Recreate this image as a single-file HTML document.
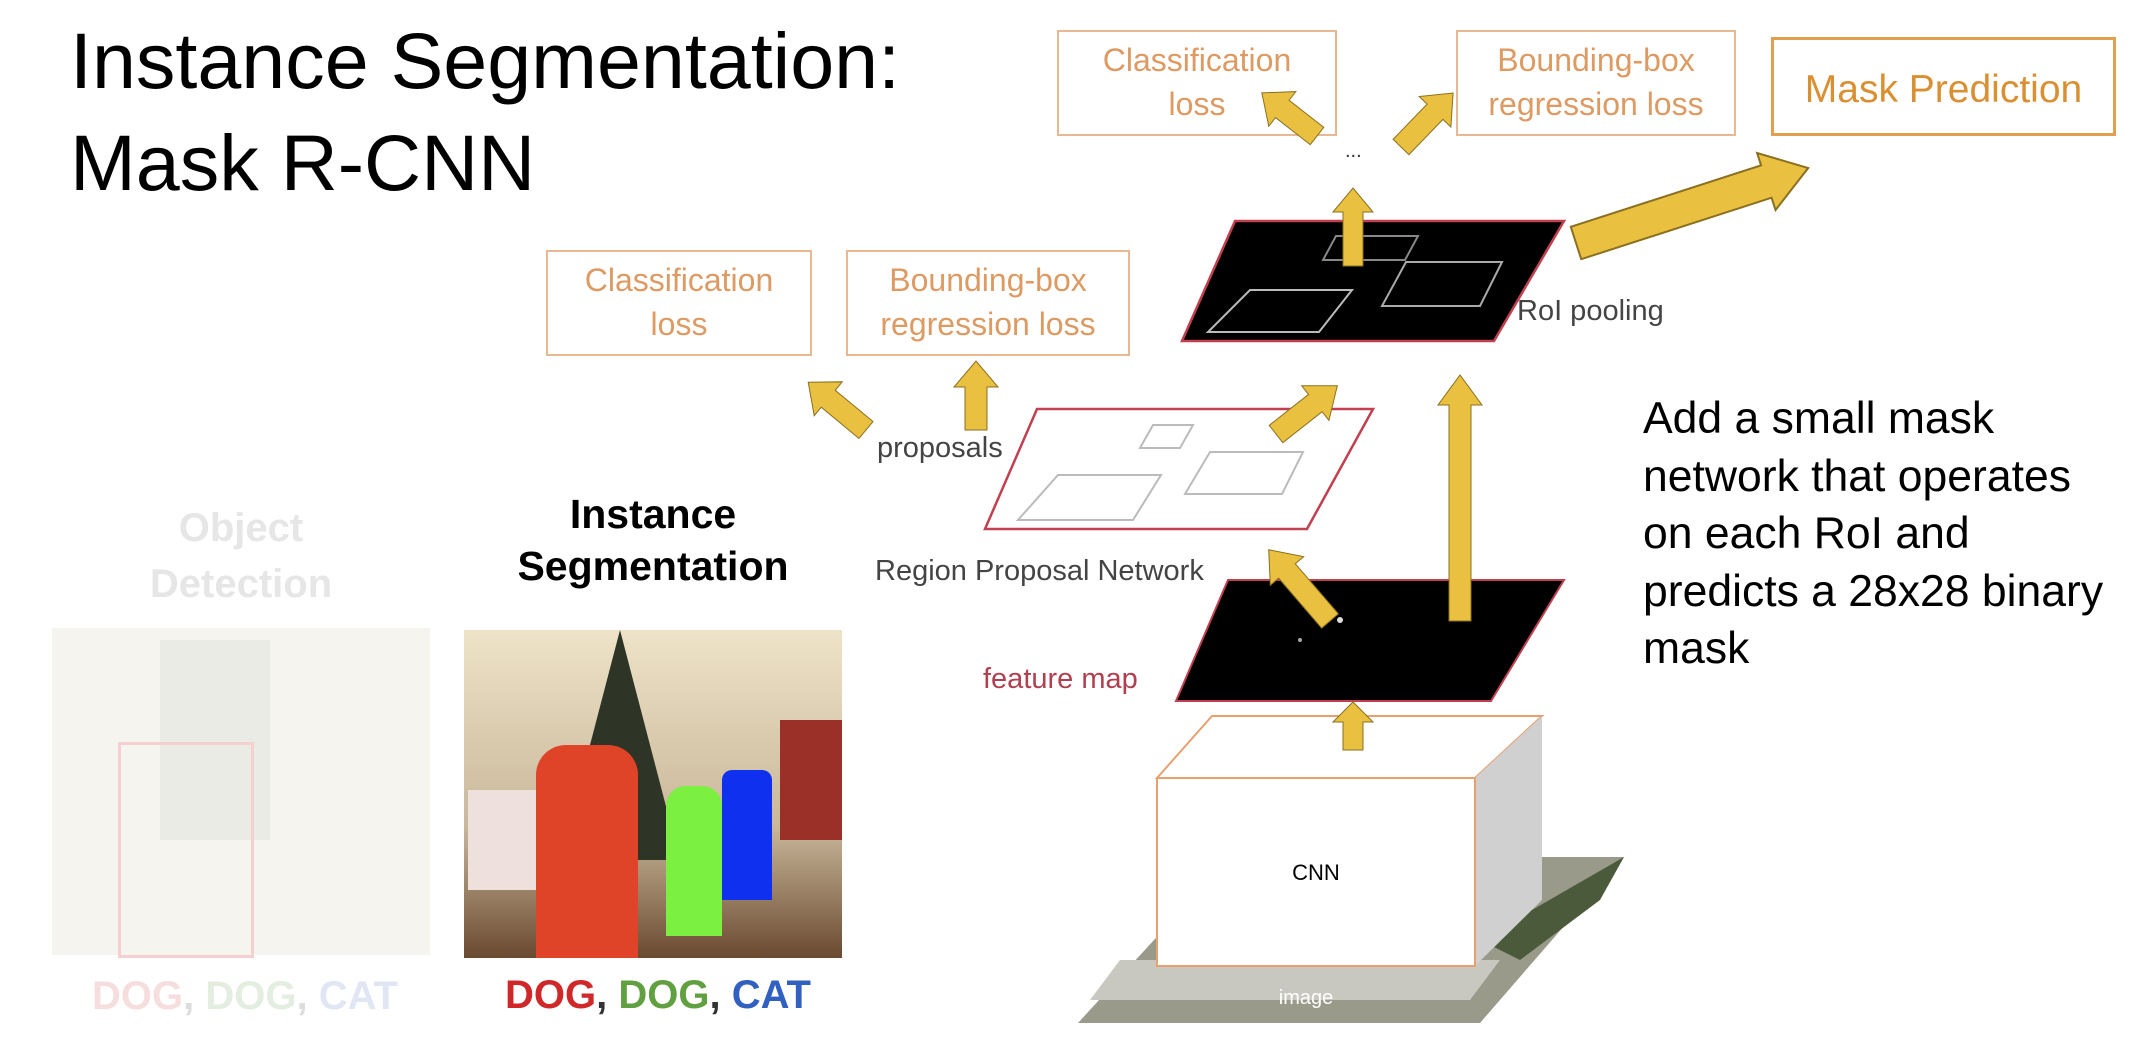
<!DOCTYPE html>
<html><head><meta charset="utf-8"><style>
body{margin:0;width:2134px;height:1048px;background:#fff;position:relative;overflow:hidden;font-family:"Liberation Sans",sans-serif}
.t{position:absolute;white-space:nowrap}
.box{position:absolute;border:2px solid #e8b892;color:#dd9a63;font-size:32px;text-align:center;line-height:44px;box-sizing:border-box;padding-top:6px}
</style></head><body>
<div class="t" style="left:70px;top:10px;font-size:79px;line-height:102px;color:#000">Instance Segmentation:<br>Mask R-CNN</div>

<div class="box" style="left:1057px;top:30px;width:280px;height:106px">Classification<br>loss</div>
<div class="box" style="left:1456px;top:30px;width:280px;height:106px">Bounding-box<br>regression loss</div>
<div class="box" style="left:1771px;top:37px;width:345px;height:99px;border:3px solid #e0a050;color:#d99032;font-size:39px;line-height:99px;padding:0">Mask Prediction</div>
<div class="box" style="left:546px;top:250px;width:266px;height:106px">Classification<br>loss</div>
<div class="box" style="left:846px;top:250px;width:284px;height:106px">Bounding-box<br>regression loss</div>

<svg width="2134" height="1048" style="position:absolute;left:0;top:0">
<polygon points="1078,1023 1480,1023 1624,857 1230,857" fill="#9a9a8a"/>
<polygon points="1090,1000 1470,1000 1500,960 1120,960" fill="#c8c8c0"/>
<polygon points="1480,940 1624,857 1600,900 1520,960" fill="#4a5a3a"/>
<polygon points="1157,778 1212,716 1542,716 1475,778" fill="#fff" stroke="#e8a070" stroke-width="2"/>
<polygon points="1475,778 1542,716 1542,900 1475,966" fill="#d0d0d0"/>
<rect x="1157" y="778" width="318" height="188" fill="#fff" stroke="#e8a070" stroke-width="2"/>
<text x="1316" y="880" font-size="22" text-anchor="middle" font-family="Liberation Sans">CNN</text>
<text x="1306" y="1004" font-size="20" fill="#fff" text-anchor="middle" font-family="Liberation Sans">image</text>
<polygon points="1228,580 1564,580 1491,701 1176,701" fill="#000" stroke="#c04050" stroke-width="2"/>
<circle cx="1340" cy="620" r="3" fill="#ddd"/><circle cx="1300" cy="640" r="2" fill="#aaa"/>
<polygon points="1037,409 1373,409 1307,529 985,529" fill="#fff" stroke="#c04050" stroke-width="2.5"/>
<polygon points="1153,425 1193,425 1180,448 1140,448" fill="none" stroke="#bbb" stroke-width="2"/>
<polygon points="1210,452 1303,452 1282,494 1185,494" fill="none" stroke="#bbb" stroke-width="2"/>
<polygon points="1058,475 1161,475 1133,520 1018,520" fill="none" stroke="#bbb" stroke-width="2"/>
<polygon points="1235,221 1564,221 1494,341 1182,341" fill="#000" stroke="#c04050" stroke-width="2.5"/>
<polygon points="1336,236 1418,236 1405,260 1323,260" fill="none" stroke="#888" stroke-width="2"/>
<polygon points="1406,262 1502,262 1480,306 1382,306" fill="none" stroke="#aaa" stroke-width="2"/>
<polygon points="1250,290 1352,290 1319,332 1208,332" fill="none" stroke="#bbb" stroke-width="2"/>
<g fill="#e9c040" stroke="#8a7020" stroke-width="1">
<g transform="translate(1460,621) rotate(-90)"><polygon points="0,-11 216,-11 216,-22 246,0 216,22 216,11 0,11"/></g>
<g transform="translate(1353,750) rotate(-90)"><polygon points="0,-10 28,-10 28,-20 48,0 28,20 28,10 0,10"/></g>
<g transform="translate(1330,621) rotate(-130.7)"><polygon points="0,-11 66,-11 66,-22 94,0 66,22 66,11 0,11"/></g>
<g transform="translate(1276,434) rotate(-38.2)"><polygon points="0,-11 50,-11 50,-22 78,0 50,22 50,11 0,11"/></g>
<g transform="translate(1353,266) rotate(-90)"><polygon points="0,-10 54,-10 54,-20 78,0 54,20 54,10 0,10"/></g>
<g transform="translate(1317,136) rotate(-142)"><polygon points="0,-11 44,-11 44,-22 70,0 44,22 44,11 0,11"/></g>
<g transform="translate(1401,147) rotate(-46)"><polygon points="0,-11 49,-11 49,-22 75,0 49,22 49,11 0,11"/></g>
<g transform="translate(866,430) rotate(-140.4)"><polygon points="0,-11 49,-11 49,-22 75,0 49,22 49,11 0,11"/></g>
<g transform="translate(976,430) rotate(-90)"><polygon points="0,-11 43,-11 43,-22 69,0 43,22 43,11 0,11"/></g>
<g transform="translate(1576,243) rotate(-17.9)" stroke-width="2"><polygon points="0,-17 200,-17 200,-30 244,0 200,30 200,17 0,17"/></g>
</g>
</svg>
<div class="t" style="left:1345px;top:140px;font-size:20px;color:#333">...</div>
<div class="t" style="left:1517px;top:295px;font-size:29px;color:#444">RoI pooling</div>
<div class="t" style="left:877px;top:432px;font-size:29px;color:#444">proposals</div>
<div class="t" style="left:875px;top:555px;font-size:29px;color:#444">Region Proposal Network</div>
<div class="t" style="left:983px;top:663px;font-size:29px;color:#b04050">feature map</div>
<div class="t" style="left:1643px;top:390px;font-size:44.5px;line-height:57.5px;color:#000">Add a small mask<br>network that operates<br>on each RoI and<br>predicts a 28x28 binary<br>mask</div>

<div class="t" style="left:52px;top:500px;width:378px;text-align:center;font-size:40px;font-weight:bold;line-height:56px;color:#e6e6e6">Object<br>Detection</div>
<div style="position:absolute;left:52px;top:628px;width:378px;height:327px;background:#f6f4ef"></div>
<div style="position:absolute;left:160px;top:640px;width:110px;height:200px;background:#ebebe6"></div>
<div style="position:absolute;left:118px;top:742px;width:130px;height:210px;border:3px solid #f6d0d0"></div>
<div class="t" style="left:92px;top:974px;font-size:40px;font-weight:bold;color:#f7dede">DOG<span style="color:#ddd">,</span> <span style="color:#e3eee0">DOG</span><span style="color:#ddd">,</span> <span style="color:#e0e6f4">CAT</span></div>

<div class="t" style="left:464px;top:488px;width:378px;text-align:center;font-size:41px;font-weight:bold;line-height:52px;color:#000">Instance<br>Segmentation</div>
<div style="position:absolute;left:464px;top:630px;width:378px;height:328px;background:linear-gradient(#eee3c8,#c9b79a 60%,#6a4a30)"></div>
<div style="position:absolute;left:560px;top:630px;width:120px;height:230px;background:#2e3526;clip-path:polygon(50% 0,100% 100%,0 100%)"></div>
<div style="position:absolute;left:780px;top:720px;width:62px;height:120px;background:#9a3028"></div>
<div style="position:absolute;left:468px;top:790px;width:100px;height:100px;background:#eee0dc"></div>
<div style="position:absolute;left:536px;top:745px;width:102px;height:213px;background:#e04428;border-radius:30px 30px 0 0"></div>
<div style="position:absolute;left:666px;top:786px;width:56px;height:150px;background:#7cf040;border-radius:20px 20px 0 0"></div>
<div style="position:absolute;left:722px;top:770px;width:50px;height:130px;background:#1030f0;border-radius:10px 10px 0 0"></div>
<div class="t" style="left:505px;top:973px;font-size:40px;font-weight:bold;color:#d02828">DOG<span style="color:#333">,</span> <span style="color:#60a040">DOG</span><span style="color:#333">,</span> <span style="color:#3060c0">CAT</span></div>
</body></html>
